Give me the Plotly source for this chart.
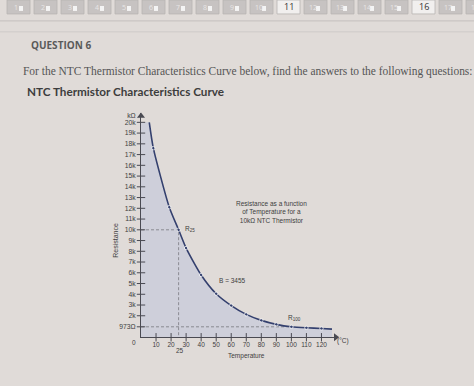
import plotly.graph_objects as go

W, H = 474, 386

# ---- data (temperature in °C, resistance in kΩ) ----
temps_c = [5.5, 8.2, 18.8, 25, 30, 40, 50, 60, 70, 80, 90, 100, 110, 120, 127]
res_k = [20.0, 17.6, 12.1, 10.0, 8.3, 5.8, 4.05, 2.95, 2.13, 1.57, 1.2, 0.973, 0.88, 0.82, 0.76]

x_tick_vals = [10, 20, 30, 40, 50, 60, 70, 80, 90, 100, 110, 120]
x_tick_text = ["10", "20", "30", "40", "50", "60", "70", "80", "90", "100", "110", "120"]
y_tick_vals = [0.973, 2, 3, 4, 5, 6, 7, 8, 9, 10, 11, 12, 13, 14, 15, 16, 17, 18, 19, 20]
y_tick_text = ["973Ω", "2k", "3k", "4k", "5k", "6k", "7k", "8k", "9k", "10k", "11k", "12k",
               "13k", "14k", "15k", "16k", "17k", "18k", "19k", "20k"]
y_unit_val = 20.65
y_unit_text = "kΩ"

ref_temps = [25, 100]
ref_res = [10.0, 0.973]

nav_labels = [str(i) for i in range(1, 19)]
nav_current = ["11", "16"]

x_max = 131.0
y_max = 20.83

# ---- style ----
BG = "#e0dbd8"
AX = "#4a4a52"
CURVE = "#34406e"
FILL = "rgba(150,170,225,0.24)"
TXT = "#3e3e3e"


def PX(x):
    return x / W


def PY(y):
    return 1 - y / H


fig = go.Figure()

# filled area under curve (plus rectangle left of first point)
fig.add_trace(go.Scatter(
    x=[0, temps_c[0], temps_c[0], 0], y=[0, 0, res_k[0], res_k[0]],
    mode="none", fill="toself", fillcolor=FILL, hoverinfo="skip"))
fig.add_trace(go.Scatter(
    x=temps_c, y=res_k, mode="none", fill="tozeroy", fillcolor=FILL,
    line=dict(shape="spline", smoothing=0.6), hoverinfo="skip"))

# dashed reference lines
fig.add_trace(go.Scatter(x=[0, ref_temps[0], ref_temps[0]], y=[ref_res[0], ref_res[0], 0],
                         mode="lines", line=dict(color="#8a8a92", width=1, dash="3px,2px"),
                         hoverinfo="skip"))
fig.add_trace(go.Scatter(x=[0, ref_temps[1]], y=[ref_res[1], ref_res[1]],
                         mode="lines", line=dict(color="#8a8a92", width=1, dash="3px,2px"),
                         hoverinfo="skip"))

# curve
n = len(temps_c)
fig.add_trace(go.Scatter(
    x=temps_c, y=res_k, mode="lines+markers",
    line=dict(color=CURVE, width=1.6, shape="spline", smoothing=0.6),
    marker=dict(size=[0] + [3.5] * (n - 2) + [0], color=CURVE),
    cliponaxis=False, hoverinfo="skip"))

# crossing tick marks
fig.add_trace(go.Scatter(x=[0] * len(y_tick_vals), y=y_tick_vals, mode="markers",
                         marker=dict(symbol="line-ew", size=6, line=dict(width=1, color=AX)),
                         cliponaxis=False, hoverinfo="skip"))
fig.add_trace(go.Scatter(x=x_tick_vals, y=[0] * len(x_tick_vals), mode="markers",
                         marker=dict(symbol="line-ns", size=6, line=dict(width=1, color=AX)),
                         cliponaxis=False, hoverinfo="skip"))
# axis arrows
fig.add_trace(go.Scatter(x=[0], y=[y_max - 0.25], mode="markers",
                         marker=dict(symbol="triangle-up", size=7, color=AX),
                         cliponaxis=False, hoverinfo="skip"))
fig.add_trace(go.Scatter(x=[x_max - 1.5], y=[0], mode="markers",
                         marker=dict(symbol="triangle-right", size=7, color=AX),
                         cliponaxis=False, hoverinfo="skip"))

xtickfont = dict(family="Liberation Sans, Arial", size=6.5, color=TXT)
ytickfont = dict(family="Liberation Sans, Arial", size=6.8, color=TXT)

fig.update_layout(
    width=W, height=H, margin=dict(l=0, r=0, t=0, b=0),
    paper_bgcolor=BG, plot_bgcolor="rgba(0,0,0,0)", showlegend=False,
    xaxis=dict(domain=[PX(141), PX(338)], range=[0, x_max], showline=True, linecolor=AX,
               linewidth=1, showgrid=False, zeroline=False, tickvals=x_tick_vals,
               ticktext=x_tick_text, ticks="", tickfont=xtickfont, fixedrange=True,
               ticklabelstandoff=1),
    yaxis=dict(domain=[1 - 337 / H, 1 - 112 / H], range=[0, y_max], showline=True,
               linecolor=AX, linewidth=1, showgrid=False, zeroline=False,
               tickvals=y_tick_vals + [y_unit_val], ticktext=y_tick_text + [y_unit_text],
               ticks="", tickfont=ytickfont, fixedrange=True, ticklabelstandoff=3),
)

shapes = []
annots = []

# top navigation bar
for i, lab in enumerate(nav_labels):
    x0 = 7 + 27 * i
    cur = lab in nav_current
    shapes.append(dict(type="rect", xref="paper", yref="paper",
                       x0=PX(x0), x1=PX(x0 + 23), y0=PY(12), y1=PY(-2),
                       fillcolor="#f1efee" if cur else "#c7c3c2",
                       line=dict(color="#b8b4b3", width=0.8)))
    if cur:
        annots.append(dict(x=PX(x0 + 11.5), y=PY(5), text=lab,
                           font=dict(family="Open Sans", size=9, color="#333")))
    else:
        annots.append(dict(x=PX(x0 + 9), y=PY(5.5), text=lab,
                           font=dict(family="Open Sans", size=7, color="#e8e6e6")))
        shapes.append(dict(type="rect", xref="paper", yref="paper",
                           x0=PX(x0 + 12), x1=PX(x0 + 16), y0=PY(9), y1=PY(4),
                           fillcolor="#f4f4f4", line=dict(width=0)))

shapes.append(dict(type="line", xref="paper", yref="paper", x0=0, x1=1, y0=PY(19), y1=PY(19),
                   line=dict(color="#c4bfbd", width=1)))
shapes.append(dict(type="line", xref="paper", yref="paper", x0=0, x1=1, y0=PY(30), y1=PY(30),
                   line=dict(color="#cfcac8", width=1)))

annots.append(dict(x=PX(29), y=PY(43), xanchor="left",
                   text="<b>QUESTION 6</b>",
                   font=dict(family="Open Sans", size=10, color="#5a5a5a")))
annots.append(dict(x=PX(21), y=PY(70), xanchor="left",
                   text="For the NTC Thermistor Characteristics Curve below, find the answers to the following questions:",
                   font=dict(family="Liberation Serif", size=11.45, color="#555555")))
annots.append(dict(x=PX(25), y=PY(89), xanchor="left",
                   text="<b>NTC Thermistor Characteristics Curve</b>",
                   font=dict(family="Lato", size=11.7, color="#3d3d3d")))

small = dict(family="Liberation Sans, Arial", size=6.5, color=TXT)
annots += [
    dict(x=PX(271), y=PY(211), text="Resistance as a function<br>of Temperature for a<br>10kΩ NTC Thermistor",
         align="center", font=small),
    dict(x=PX(232), y=PY(280), text="B = 3455", font=small),
    dict(x=PX(183), y=PY(228), xanchor="left", text="R<sub>25</sub>", font=small),
    dict(x=PX(286), y=PY(318), xanchor="left", text="R<sub>100</sub>", font=small),
    dict(x=PX(134), y=PY(342), text="0", font=small),
    dict(x=PX(180), y=PY(350), text="25", font=small),
    dict(x=PX(335), y=PY(341), xanchor="left", text="(°C)", font=small),
    dict(x=PX(247), y=PY(356), text="Temperature", font=small),
    dict(x=PX(116), y=PY(240), text="Resistance", textangle=-90,
         font=dict(family="Liberation Sans, Arial", size=7, color=TXT)),
]
for a in annots:
    a.setdefault("xref", "paper")
    a.setdefault("yref", "paper")
    a.setdefault("xanchor", "center")
    a.setdefault("yanchor", "middle")
    a.setdefault("showarrow", False)

fig.update_layout(shapes=shapes, annotations=annots)
fig.write_html(
    "out.html",
    config={"displayModeBar": False},
    post_script="document.body.style.margin='0';document.body.style.overflow='hidden';"
                "document.body.style.background='" + BG + "';",
)
